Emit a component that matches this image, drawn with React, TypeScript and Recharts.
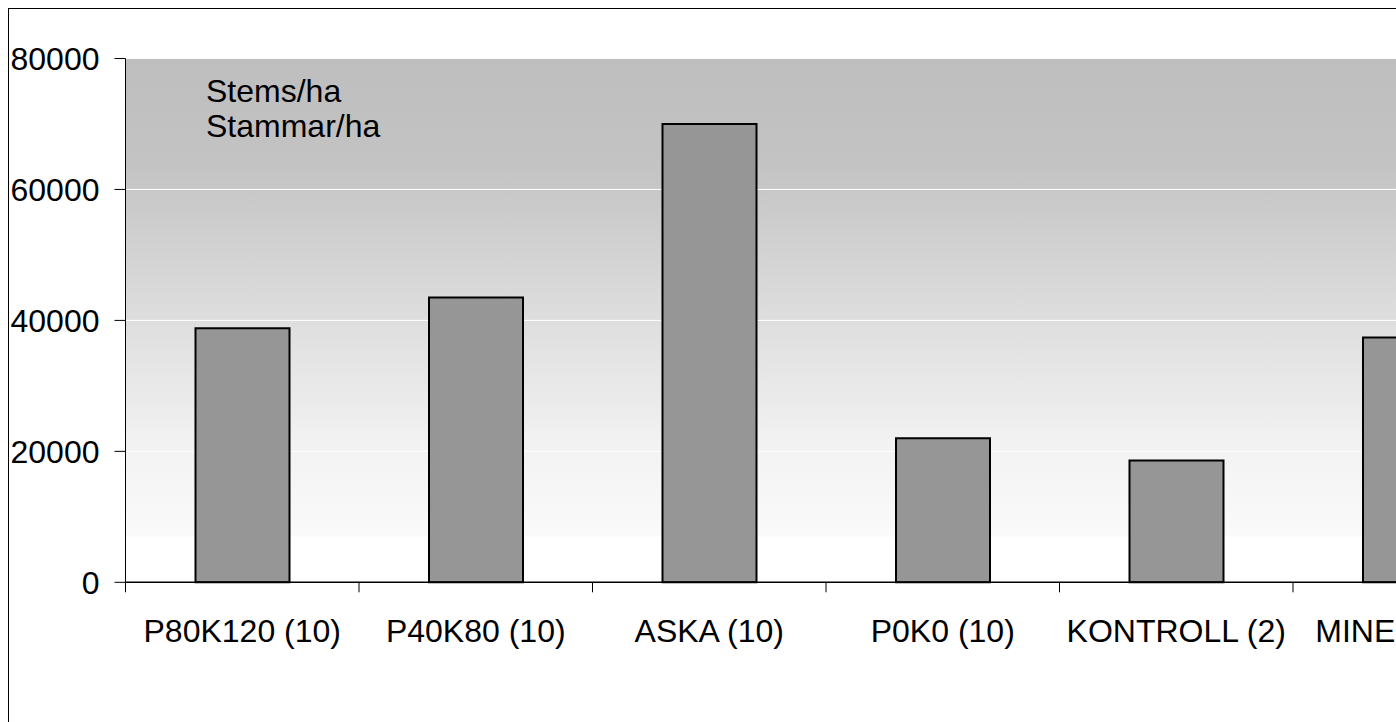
import React from 'react';
import { BarChart, Bar, XAxis, YAxis, CartesianGrid } from 'recharts';

// Treatments (number of plots in parentheses) and stem counts per hectare
const categories = ['P80K120 (10)', 'P40K80 (10)', 'ASKA (10)', 'P0K0 (10)', 'KONTROLL (2)', 'MINERAL (9)'];
const stemsPerHa = [38800, 43500, 70000, 22000, 18600, 37400];
const yTicks = [0, 20000, 40000, 60000, 80000];
const noteLines = ['Stems/ha', 'Stammar/ha'];

const data = categories.map((name, i) => ({ name, stems: stemsPerHa[i] }));

const FONT = '"Liberation Sans", Arial, Helvetica, sans-serif';

// Category label with tick marks on the band boundaries
const CategoryTick = (props: any) => {
  const { x, y, payload, width, visibleTicksCount, index } = props;
  const band =
    width && visibleTicksCount ? width / visibleTicksCount : (payload?.offset ?? 0) * 2;
  const left = x - band / 2;
  const right = x + band / 2;
  return (
    <g>
      <line x1={left} x2={left} y1={y} y2={y + 10} stroke="#000" strokeWidth={1} />
      {index === visibleTicksCount - 1 && (
        <line x1={right} x2={right} y1={y} y2={y + 10} stroke="#000" strokeWidth={1} />
      )}
      <text x={x} y={y + 60} textAnchor="middle" fontSize={32} fill="#000" fontFamily={FONT}>
        {payload.value}
      </text>
    </g>
  );
};

export default function App() {
  return (
    <div
      style={{
        position: 'fixed',
        left: 0,
        top: 0,
        width: 1396,
        height: 722,
        overflow: 'hidden',
        background: '#fff',
        fontFamily: FONT,
      }}
    >
      <div
        style={{
          position: 'absolute',
          left: 8,
          top: 8,
          width: 1600,
          height: 800,
          border: '1px solid #000',
        }}
      >
        <BarChart
          width={1600}
          height={800}
          data={data}
          margin={{ top: 49.5, right: 82.5, left: 0, bottom: 166.7 }}
          style={{ fontFamily: FONT }}
        >
          <defs>
            <linearGradient id="plotBg" x1="0" y1="0" x2="0" y2="1">
              <stop offset="0%" stopColor="#bebebe" />
              <stop offset="20%" stopColor="#c3c3c3" />
              <stop offset="50%" stopColor="#dedede" />
              <stop offset="75%" stopColor="#f3f3f3" />
              <stop offset="91%" stopColor="#fafafa" />
              <stop offset="91.5%" stopColor="#ffffff" />
              <stop offset="100%" stopColor="#ffffff" />
            </linearGradient>
          </defs>
          <CartesianGrid
            vertical={false}
            stroke="#ffffff"
            strokeWidth={1}
            fill="url(#plotBg)"
            fillOpacity={1}
          />
          <XAxis
            dataKey="name"
            type="category"
            height={60}
            axisLine={{ stroke: '#000', strokeWidth: 1.5 }}
            tickLine={false}
            tickSize={0}
            tickMargin={0}
            interval={0}
            tick={<CategoryTick />}
          />
          <YAxis
            type="number"
            domain={[0, 80000]}
            ticks={yTicks}
            interval={0}
            width={116.5}
            axisLine={{ stroke: '#000', strokeWidth: 1 }}
            tickLine={{ stroke: '#000', strokeWidth: 1 }}
            tickSize={11}
            tickMargin={15}
            tick={{ fontSize: 32, fill: '#000', fontFamily: FONT }}
          />
          <Bar
            dataKey="stems"
            fill="#969696"
            stroke="#000"
            strokeWidth={2}
            barSize={94}
            isAnimationActive={false}
          />
        </BarChart>
      </div>
      <svg
        width={1396}
        height={722}
        style={{ position: 'absolute', left: 0, top: 0, pointerEvents: 'none' }}
      >
        {noteLines.map((line, i) => (
          <text key={line} x={206} y={101.5 + i * 35.5} fontSize={32} fill="#000" fontFamily={FONT}>
            {line}
          </text>
        ))}
      </svg>
    </div>
  );
}
